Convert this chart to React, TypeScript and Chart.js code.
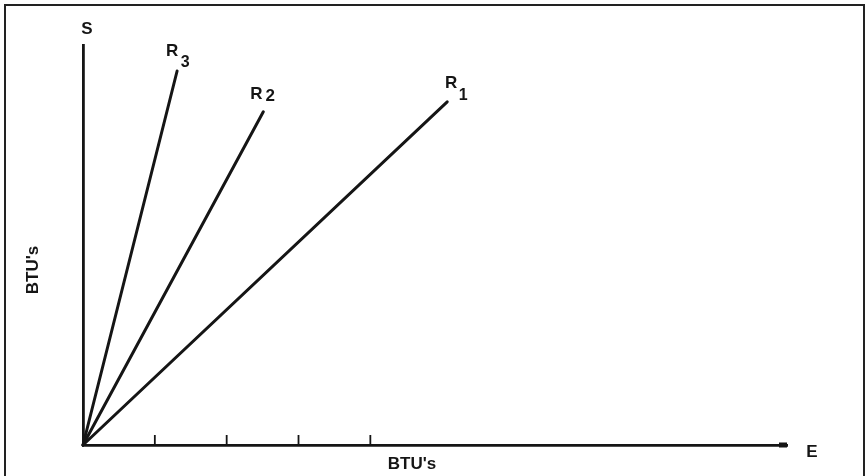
import React, { useEffect, useRef } from "react";
import { Chart, registerables } from "chart.js";

Chart.register(...registerables);

// ---- data ----
const seriesNames = ["R1", "R2", "R3"];
const r1Points = [
  { x: 0, y: 0 },
  { x: 5.07, y: 8.58 },
];
const r2Points = [
  { x: 0, y: 0 },
  { x: 2.51, y: 8.33 },
];
const r3Points = [
  { x: 0, y: 0 },
  { x: 1.31, y: 9.35 },
];
const xTickValues = [1, 2, 3, 4];
const xAxisTitle = "BTU's";
const yAxisTitle = "BTU's";
const yAxisName = "S";
const xAxisName = "E";
const xMax = 9.8;
const yMax = 10;

const FONT = '"Liberation Sans", Arial, sans-serif';
const INK = "#151515";

// label styling per series (main letter, index, offsets from line end)
const labelStyles = [
  { main: "R", sub: "1", mdx: 4, mdy: -18, sdx: 16, sdy: -6, subSize: 16 },
  { main: "R", sub: "2", mdx: -7, mdy: -17, sdx: 7, sdy: -15, subSize: 17 },
  { main: "R", sub: "3", mdx: -5, mdy: -20, sdx: 8, sdy: -8, subSize: 16 },
];

const annotationPlugin = {
  id: "annotations",
  afterDraw(chart: any) {
    const ctx = chart.ctx;
    const xs = chart.scales.x;
    const ys = chart.scales.y;
    const area = chart.chartArea;
    const ox = xs.getPixelForValue(0);
    const oy = ys.getPixelForValue(0);
    ctx.save();
    ctx.strokeStyle = INK;
    ctx.fillStyle = INK;
    // tick marks pointing up from the x axis
    ctx.lineWidth = 1.8;
    xTickValues.forEach((v) => {
      const px = xs.getPixelForValue(v);
      ctx.beginPath();
      ctx.moveTo(px, oy);
      ctx.lineTo(px, oy - 10);
      ctx.stroke();
    });
    // small thickened end of x axis
    const ex = xs.getPixelForValue(xMax);
    ctx.fillRect(ex - 8, oy - 2.5, 8, 5);

    ctx.textAlign = "center";
    ctx.textBaseline = "middle";
    ctx.font = `bold 17px ${FONT}`;
    ctx.fillText(yAxisName, ox + 4, ys.getPixelForValue(yMax) - 16);
    ctx.fillText(xAxisName, ex + 25, oy + 7);
    ctx.fillText(xAxisTitle, area.left + 329, oy + 19);

    ctx.save();
    ctx.translate(area.left - 50, area.top + 225);
    ctx.rotate(-Math.PI / 2);
    ctx.fillText(yAxisTitle, 0, 0);
    ctx.restore();

    chart.data.datasets.forEach((ds: any, i: number) => {
      const pts = ds.data;
      const last = pts[pts.length - 1];
      const px = xs.getPixelForValue(last.x);
      const py = ys.getPixelForValue(last.y);
      const st = labelStyles[i];
      ctx.font = `bold 17px ${FONT}`;
      ctx.fillText(st.main, px + st.mdx, py + st.mdy);
      ctx.font = `bold ${st.subSize}px ${FONT}`;
      ctx.fillText(st.sub, px + st.sdx, py + st.sdy);
    });
    ctx.restore();
  },
};

export default function App() {
  const canvasRef = useRef<HTMLCanvasElement | null>(null);

  useEffect(() => {
    document.body.style.margin = "0";
    const canvas = canvasRef.current;
    if (!canvas) return;
    const makeDs = (name: string, data: { x: number; y: number }[]) => ({
      label: name,
      data,
      showLine: true,
      borderColor: INK,
      backgroundColor: INK,
      borderWidth: 3,
      pointRadius: 0,
      borderCapStyle: "round" as const,
      clip: false as any,
    });
    const chart = new Chart(canvas, {
      type: "scatter",
      data: {
        datasets: [
          makeDs(seriesNames[0], r1Points),
          makeDs(seriesNames[1], r2Points),
          makeDs(seriesNames[2], r3Points),
        ],
      },
      options: {
        animation: false,
        responsive: false,
        events: [],
        layout: { padding: { left: 83, top: 45, right: 79, bottom: 31 } },
        plugins: {
          legend: { display: false },
          tooltip: { enabled: false },
          title: { display: false },
        },
        scales: {
          x: {
            type: "linear",
            min: 0,
            max: xMax,
            ticks: { display: false },
            grid: { display: false, drawTicks: false },
            border: { display: true, color: INK, width: 2.8 },
          },
          y: {
            type: "linear",
            min: 0,
            max: yMax,
            ticks: { display: false },
            grid: { display: false, drawTicks: false },
            border: { display: true, color: INK, width: 2.8 },
          },
        },
      },
      plugins: [annotationPlugin],
    });
    return () => chart.destroy();
  }, []);

  return (
    <div
      style={{
        position: "relative",
        width: 866,
        height: 476,
        overflow: "hidden",
        background: "#fff",
      }}
    >
      <div
        style={{
          position: "absolute",
          left: 4,
          top: 4,
          width: 857,
          height: 500,
          border: "2px solid #222",
        }}
      />
      <canvas
        ref={canvasRef}
        width={866}
        height={476}
        style={{ position: "absolute", left: 0, top: 0 }}
      />
    </div>
  );
}
